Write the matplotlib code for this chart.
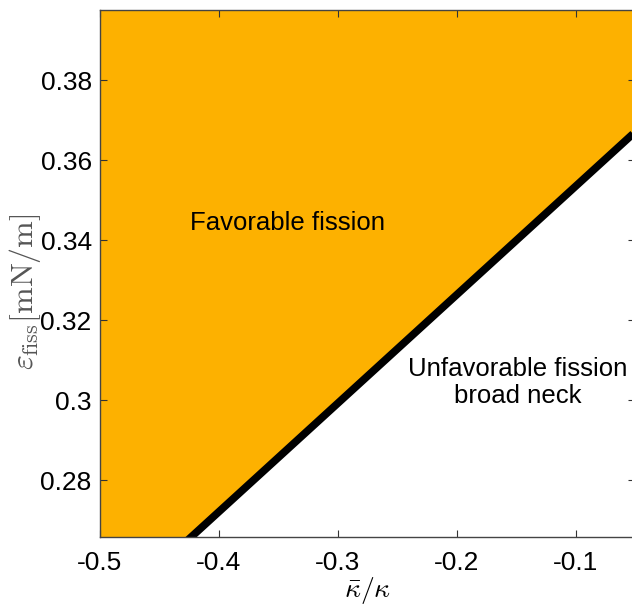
import numpy as np
import matplotlib.pyplot as plt

plt.rcParams['font.family'] = ['Liberation Sans', 'DejaVu Sans']
plt.rcParams['mathtext.fontset'] = 'cm'

# boundary line between favorable / unfavorable fission
kbar = [-0.5, -0.05]
eps_fiss = [0.245, 0.367]

xticks = [-0.5, -0.4, -0.3, -0.2, -0.1]
xticklabels = ['-0.5', '-0.4', '-0.3', '-0.2', '-0.1']
yticks = [0.28, 0.30, 0.32, 0.34, 0.36, 0.38]
yticklabels = ['0.28', '0.3', '0.32', '0.34', '0.36', '0.38']

fig = plt.figure(figsize=(6.32, 6.07), dpi=100)
ax = fig.add_axes([100/632, 1-537/607, 535/632, 527/607])

ax.fill_between(kbar, eps_fiss, 0.45, color='#FDB100', lw=0)
ax.plot(kbar, eps_fiss, color='black', lw=5.5, solid_capstyle='butt')

ax.set_xlim(-0.5, -0.05)
ax.set_ylim(0.2658, 0.3975)
ax.set_xticks(xticks)
ax.set_xticklabels(xticklabels)
ax.set_yticks(yticks)
ax.set_yticklabels(yticklabels)
ax.tick_params(direction='in', top=True, right=True, labelsize=19, length=5, width=0.8, colors='#333333', labelcolor='black')
ax.tick_params(axis='x', pad=10)
ax.tick_params(axis='y', pad=6)
for s in ax.spines.values():
    s.set_color('#444444')
    s.set_linewidth(1)

ax.text(-0.342, 0.3442, 'Favorable fission', fontsize=18.5, ha='center', va='center')
ax.text(-0.149, 0.3045, 'Unfavorable fission\nbroad neck', fontsize=18.5, ha='center', va='center', linespacing=1.15)

fig.text(368/632, 1-591/607, r'$\bar{\kappa}/\kappa$', fontsize=20, ha='center', va='center')
fig.text(25/632, 1-292/607, r'$\varepsilon_{\rm fiss}[\rm mN/m]$', rotation=90, fontsize=23, color='#555555', ha='center', va='center')

fig.savefig('out.png', dpi=100)
